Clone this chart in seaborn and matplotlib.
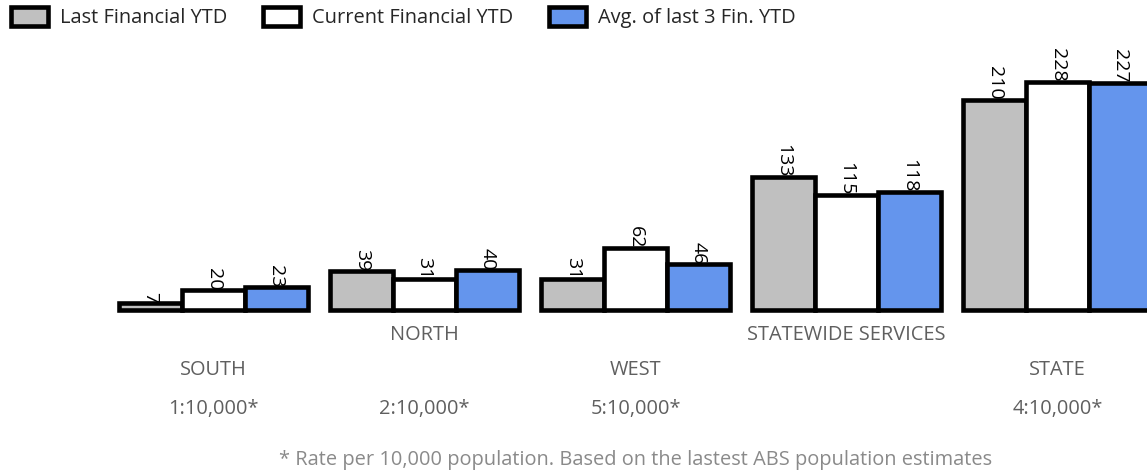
import matplotlib
matplotlib.use("Agg")
import matplotlib.pyplot as plt
from matplotlib.patches import Patch
from matplotlib.transforms import blended_transform_factory
import pandas as pd
import seaborn as sns

# Regions and their rates per 10,000 population
regions = ["SOUTH", "NORTH", "WEST", "STATEWIDE SERVICES", "STATE"]
rates = ["1:10,000*", "2:10,000*", "5:10,000*", "", "4:10,000*"]

series = ["Last Financial YTD", "Current Financial YTD", "Avg. of last 3 Fin. YTD"]
colors = ["#C0C0C0", "#FFFFFF", "#6495ED"]

last_ytd = [7, 39, 31, 133, 210]
current_ytd = [20, 31, 62, 115, 228]
avg_3_ytd = [23, 40, 46, 118, 227]

footnote = "* Rate per 10,000 population. Based on the lastest ABS population estimates"

df = pd.DataFrame({
    "region": regions * 3,
    "series": [s for s in series for _ in regions],
    "value": last_ytd + current_ytd + avg_3_ytd,
})

sns.set_theme(style="white")
plt.rcParams["font.family"] = ["Open Sans", "DejaVu Sans"]

FS = 14.4
W, H = 1147, 475
fig = plt.figure(figsize=(W / 100, H / 100), dpi=100)
base_px = 310
top_px = 40
ax = fig.add_axes([0, (H - base_px) / H, 1, (base_px - top_px) / H])

sns.barplot(data=df, x="region", y="value", hue="series", order=regions,
            hue_order=series, palette=colors, edgecolor="black", linewidth=3.3,
            width=0.895, gap=0, saturation=1, legend=False, ax=ax)

for patch in ax.patches:
    patch.set_clip_on(False)

for cont in ax.containers:
    ax.bar_label(cont, fmt="{:g}", rotation=-90, padding=0, fontsize=14,
                 color="black", clip_on=False)

ax.set_xlim(-1.012, 4.424)
ax.set_ylim(0, base_px - top_px)
ax.set_axis_off()

# Staggered category names and rate labels below the bars
tr = blended_transform_factory(ax.transData, fig.transFigure)
for i, (name, rate) in enumerate(zip(regions, rates)):
    y_name = 340 if i % 2 else 375
    ax.text(i, 1 - y_name / H, name, transform=tr, ha="center", va="baseline",
            fontsize=FS, color="#5f5f5f")
    if rate:
        ax.text(i, 1 - 414 / H, rate, transform=tr, ha="center", va="baseline",
                fontsize=FS, color="#5f5f5f")

ax.text(2, 1 - 465 / H, footnote, transform=tr, ha="center", va="baseline",
        fontsize=FS, color="#8a8a8a")

handles = [Patch(facecolor=c, edgecolor="black", linewidth=3.3) for c in colors]
fig.legend(handles, series, loc="upper left", bbox_to_anchor=(11 / W, 1 - 7 / H),
           ncol=3, frameon=False, fontsize=FS, borderpad=0, borderaxespad=0,
           handlelength=1.85, handleheight=1.1, handletextpad=0.6,
           columnspacing=1.8)

fig.savefig("out.png", dpi=100)
